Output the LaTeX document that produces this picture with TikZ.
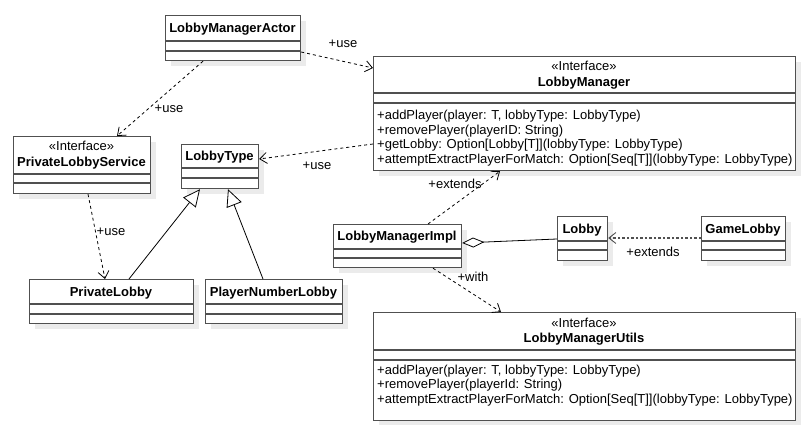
\documentclass[tikz,border=0pt]{standalone}
\usepackage{fontspec}
\setmainfont{Liberation Sans}
\usetikzlibrary{arrows.meta,calc}
\definecolor{boxc}{HTML}{505050}
\definecolor{shadc}{HTML}{EBEBEB}
\tikzset{
  classbox/.style={draw=boxc, fill=white, line width=1.2pt, inner sep=0pt, anchor=north west},
  nm/.style={font=\fontsize{13}{15}\selectfont\bfseries, anchor=base, inner sep=0pt},
  st/.style={font=\fontsize{13}{15}\selectfont, anchor=base, inner sep=0pt},
  op/.style={font=\fontsize{13}{15}\selectfont, anchor=base west, inner sep=0pt},
  lbl/.style={font=\fontsize{13}{15}\selectfont, inner sep=0pt},
  dep/.style={draw=black, line width=0.8pt, dash pattern=on 3pt off 3pt, -{Straight Barb[length=7pt,width=11pt,line width=0.8pt]}},
  depg/.style={draw=boxc, line width=1.1pt, dash pattern=on 2.5pt off 2pt, -{Straight Barb[length=7pt,width=11pt,line width=0.9pt]}},
  gen/.style={draw=black, line width=0.8pt, -{Triangle[open,length=17pt,width=16pt,line width=0.8pt,fill=white]}},
  agg/.style={draw=black, line width=0.8pt, {Diamond[open,length=22pt,width=10pt,line width=0.8pt,fill=white]}-},
}
\newcommand\umlbox[7]{%
  \fill[shadc] (#2+6,#3+6) rectangle (#4+6,#5+6);
  \node[classbox, minimum width={#4pt-#2pt}, minimum height={#5pt-#3pt}] (#1) at (#2,#3) {};
  \draw[boxc, line width=1.2pt] (#2,#6) -- (#4,#6) (#2,#7) -- (#4,#7);
}
\begin{document}
\begin{tikzpicture}[x=1pt,y=-1pt]
\useasboundingbox[fill=white] (0,0) rectangle (809,425);

% boxes
\umlbox{act}{165}{15}{300}{60}{41}{51}
\umlbox{lm}{373}{56}{795}{170}{93}{103}
\umlbox{pls}{13}{136}{150}{193}{174}{183}
\umlbox{lt}{181}{144}{258}{188}{168}{178}
\umlbox{pl}{29}{279}{193}{323}{304}{314}
\umlbox{pnl}{205}{279}{342}{323}{304}{314}
\umlbox{impl}{333}{224}{461}{267}{249}{258}
\umlbox{lob}{557}{216}{607}{260}{241}{250}
\umlbox{gl}{701}{216}{785}{260}{241}{250}
\umlbox{ut}{373}{312}{795}{420}{350}{360}

% texts
\node[nm] (actn) at (232.5,33) {LobbyManagerActor};
\node[st] (lms) at (584,70.5) {«Interface»};
\node[nm] (lmn) at (584,87) {LobbyManager};
\node[op] (lm1) at (377,119.5) {+addPlayer(player: T, lobbyType: LobbyType)};
\node[op] (lm2) at (377,134.2) {+removePlayer(playerID: String)};
\node[op] (lm3) at (377,148.9) {+getLobby: Option[Lobby[T]](lobbyType: LobbyType)};
\node[op] (lm4) at (377,163.6) {+attemptExtractPlayerForMatch: Option[Seq[T]](lobbyType: LobbyType)};
\node[st] (plss) at (81.5,150.5) {«Interface»};
\node[nm] (plsn) at (81.5,166.5) {PrivateLobbyService};
\node[nm] (ltn) at (219.5,160.5) {LobbyType};
\node[nm] (pln) at (111,296.5) {PrivateLobby};
\node[nm] (pnln) at (273.5,296.5) {PlayerNumberLobby};
\node[nm] (impln) at (397,240.5) {LobbyManagerImpl};
\node[nm] (lobn) at (582,233.5) {Lobby};
\node[nm] (gln) at (743,233.5) {GameLobby};
\node[st] (uts) at (584,327.5) {«Interface»};
\node[nm] (utn) at (584,342.5) {LobbyManagerUtils};
\node[op] (ut1) at (377,374.5) {+addPlayer(player: T, lobbyType: LobbyType)};
\node[op] (ut2) at (377,388.8) {+removePlayer(playerId: String)};
\node[op] (ut3) at (377,403.1) {+attemptExtractPlayerForMatch: Option[Seq[T]](lobbyType: LobbyType)};

% connectors
\draw[dep] ($(act.north east)+(0,37)$) -- ($(lm.north west)+(0,12)$);
\node[lbl] (l1) at (343,44) {+use};
\draw[dep] ($(act.south west)+(38,0)$) -- ($(pls.north west)+(104,0)$);
\node[lbl] (l2) at (169,109) {+use};
\draw[dep] ($(lm.north west)+(0,88)$) -- ($(lt.north east)+(0,15)$);
\node[lbl] (l3) at (317,166) {+use};
\draw[dep] ($(pls.south west)+(75,0)$) -- ($(pl.north west)+(76,0)$);
\node[lbl] (l4) at (111,232) {+use};
\draw[gen] ($(pl.north west)+(100,0)$) -- ($(lt.south west)+(19,0)$);
\draw[gen] ($(pnl.north west)+(58,0)$) -- ($(lt.south west)+(47,0)$);
\draw[dep] ($(impl.north west)+(95,0)$) -- ($(lm.south west)+(127,0)$);
\node[lbl] (l5) at (455,184) {+extends};
\draw[dep] ($(impl.south west)+(100,0)$) -- ($(ut.north west)+(128,0)$);
\node[lbl] (l6) at (473,277) {+with};
\draw[agg] ($(impl.north east)+(0,19)$) -- ($(lob.north west)+(0,23)$);
\draw[depg] ($(gl.north west)+(0,22)$) -- ($(lob.north east)+(0,22)$);
\node[lbl] (l7) at (653,252) {+extends};
\end{tikzpicture}
\end{document}
